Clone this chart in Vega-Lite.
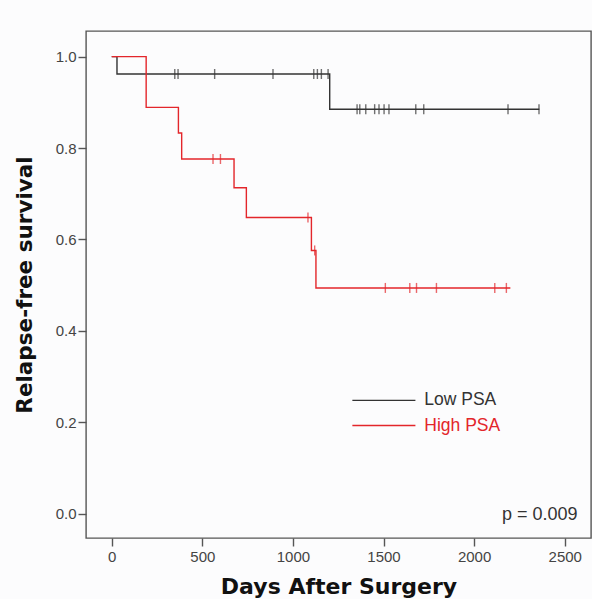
{
  "$schema": "https://vega.github.io/schema/vega-lite/v6.json",
  "width": 505,
  "height": 507,
  "autosize": {"type": "none"},
  "padding": {"left": 86, "top": 31, "right": 1, "bottom": 61},
  "background": "#fcfcfd",
  "config": {
    "view": {"stroke": "#555555", "strokeWidth": 1.4},
    "font": "Liberation Sans"
  },
  "datasets": {
    "curves": [
      {"group": "Low PSA", "day": 0, "surv": 1.0},
      {"group": "Low PSA", "day": 29, "surv": 0.962},
      {"group": "Low PSA", "day": 1203, "surv": 0.885},
      {"group": "Low PSA", "day": 2360, "surv": 0.885},
      {"group": "High PSA", "day": 0, "surv": 1.0},
      {"group": "High PSA", "day": 190, "surv": 0.889},
      {"group": "High PSA", "day": 368, "surv": 0.833},
      {"group": "High PSA", "day": 386, "surv": 0.776},
      {"group": "High PSA", "day": 675, "surv": 0.713},
      {"group": "High PSA", "day": 743, "surv": 0.648},
      {"group": "High PSA", "day": 1102, "surv": 0.576},
      {"group": "High PSA", "day": 1127, "surv": 0.494},
      {"group": "High PSA", "day": 2200, "surv": 0.494}
    ],
    "censors": [
      {"group": "Low PSA", "day": 348, "surv": 0.962},
      {"group": "Low PSA", "day": 366, "surv": 0.962},
      {"group": "Low PSA", "day": 568, "surv": 0.962},
      {"group": "Low PSA", "day": 890, "surv": 0.962},
      {"group": "Low PSA", "day": 1115, "surv": 0.962},
      {"group": "Low PSA", "day": 1135, "surv": 0.962},
      {"group": "Low PSA", "day": 1157, "surv": 0.962},
      {"group": "Low PSA", "day": 1194, "surv": 0.962},
      {"group": "Low PSA", "day": 1354, "surv": 0.885},
      {"group": "Low PSA", "day": 1369, "surv": 0.885},
      {"group": "Low PSA", "day": 1402, "surv": 0.885},
      {"group": "Low PSA", "day": 1451, "surv": 0.885},
      {"group": "Low PSA", "day": 1475, "surv": 0.885},
      {"group": "Low PSA", "day": 1503, "surv": 0.885},
      {"group": "Low PSA", "day": 1530, "surv": 0.885},
      {"group": "Low PSA", "day": 1678, "surv": 0.885},
      {"group": "Low PSA", "day": 1722, "surv": 0.885},
      {"group": "Low PSA", "day": 2187, "surv": 0.885},
      {"group": "Low PSA", "day": 2358, "surv": 0.885},
      {"group": "High PSA", "day": 559, "surv": 0.776},
      {"group": "High PSA", "day": 600, "surv": 0.776},
      {"group": "High PSA", "day": 1083, "surv": 0.648},
      {"group": "High PSA", "day": 1120, "surv": 0.576},
      {"group": "High PSA", "day": 1510, "surv": 0.494},
      {"group": "High PSA", "day": 1645, "surv": 0.494},
      {"group": "High PSA", "day": 1682, "surv": 0.494},
      {"group": "High PSA", "day": 1792, "surv": 0.494},
      {"group": "High PSA", "day": 2114, "surv": 0.494},
      {"group": "High PSA", "day": 2178, "surv": 0.494}
    ],
    "legend": [
      {"group": "Low PSA", "x1": 1328, "x2": 1676, "xt": 1725, "y": 0.248},
      {"group": "High PSA", "x1": 1328, "x2": 1676, "xt": 1725, "y": 0.193}
    ],
    "note": [
      {"label": "p = 0.009", "x": 2571, "y": -0.003}
    ]
  },
  "layer": [
    {
      "data": {"name": "curves"},
      "mark": {"type": "line", "interpolate": "step-after", "strokeWidth": 1.4},
      "encoding": {
        "x": {
          "field": "day", "type": "quantitative",
          "scale": {"domain": [-142, 2645], "nice": false, "zero": false},
          "axis": {
            "values": [0, 500, 1000, 1500, 2000, 2500],
            "format": "d",
            "title": "Days After Surgery",
            "grid": false, "domain": false,
            "tickColor": "#555555", "tickSize": 8, "tickWidth": 1.4,
            "labelColor": "#444444", "labelFontSize": 15, "labelPadding": 3,
            "labelFont": "Liberation Sans",
            "titleFont": "DejaVu Sans", "titleFontSize": 22, "titleFontWeight": "bold",
            "titleColor": "#111111", "titlePadding": 12
          }
        },
        "y": {
          "field": "surv", "type": "quantitative",
          "scale": {"domain": [-0.053, 1.056], "nice": false, "zero": false},
          "axis": {
            "values": [0, 0.2, 0.4, 0.6, 0.8, 1.0],
            "format": ".1f",
            "title": "Relapse-free survival",
            "grid": false, "domain": false,
            "tickColor": "#555555", "tickSize": 8, "tickWidth": 1.4,
            "labelColor": "#444444", "labelFontSize": 15, "labelPadding": 2,
            "labelFont": "Liberation Sans",
            "titleFont": "DejaVu Sans", "titleFontSize": 21.5, "titleFontWeight": "bold",
            "titleColor": "#111111", "titlePadding": 19
          }
        },
        "color": {
          "field": "group", "type": "nominal",
          "scale": {"domain": ["Low PSA", "High PSA"], "range": ["#333333", "#e3262b"]},
          "legend": null
        },
        "order": {"field": "day"}
      }
    },
    {
      "data": {"name": "censors"},
      "mark": {"type": "tick", "orient": "vertical", "size": 10, "thickness": 1.4},
      "encoding": {
        "x": {"field": "day", "type": "quantitative"},
        "y": {"field": "surv", "type": "quantitative"},
        "color": {"field": "group", "type": "nominal", "legend": null}
      }
    },
    {
      "data": {"name": "legend"},
      "mark": {"type": "rule", "strokeWidth": 1.4},
      "encoding": {
        "x": {"field": "x1", "type": "quantitative"},
        "x2": {"field": "x2"},
        "y": {"field": "y", "type": "quantitative"},
        "color": {"field": "group", "type": "nominal", "legend": null}
      }
    },
    {
      "data": {"name": "legend"},
      "mark": {"type": "text", "align": "left", "baseline": "middle", "fontSize": 17.5, "font": "Liberation Sans"},
      "encoding": {
        "x": {"field": "xt", "type": "quantitative"},
        "y": {"field": "y", "type": "quantitative"},
        "text": {"field": "group"},
        "color": {"field": "group", "type": "nominal", "legend": null}
      }
    },
    {
      "data": {"name": "note"},
      "mark": {"type": "text", "align": "right", "baseline": "middle", "fontSize": 18, "font": "Liberation Sans", "color": "#333333"},
      "encoding": {
        "x": {"field": "x", "type": "quantitative"},
        "y": {"field": "y", "type": "quantitative"},
        "text": {"field": "label"}
      }
    }
  ]
}
